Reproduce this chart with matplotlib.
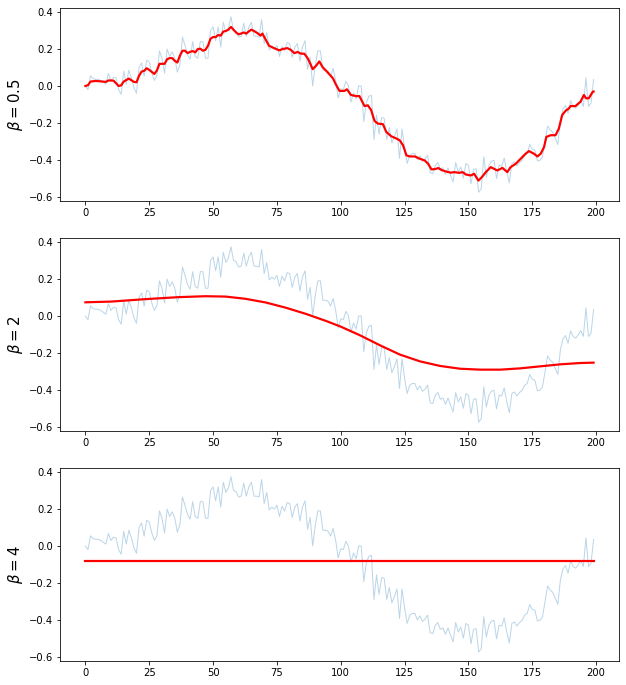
import matplotlib
matplotlib.use("Agg")
import matplotlib.pyplot as plt
import numpy as np

noisy = [
    0.0, -0.02, 0.055, 0.04, 0.036, 0.036, 0.03, 0.02, 0.01, 0.067,
    0.03, 0.047, 0.044, -0.02, -0.045, 0.08, 0.01, 0.085, 0.044, -0.01,
    -0.04, 0.1, 0.125, 0.053, 0.14, 0.13, 0.07, 0.03, 0.056, 0.19,
    0.15, 0.07, 0.2, 0.16, 0.185, 0.15, 0.075, 0.115, 0.265, 0.22,
    0.17, 0.145, 0.24, 0.16, 0.15, 0.24, 0.24, 0.15, 0.15, 0.3,
    0.32, 0.245, 0.32, 0.21, 0.345, 0.29, 0.315, 0.375, 0.3, 0.295,
    0.265, 0.27, 0.34, 0.27, 0.32, 0.345, 0.27, 0.27, 0.265, 0.36,
    0.23, 0.29, 0.195, 0.21, 0.2, 0.22, 0.16, 0.215, 0.19, 0.235,
    0.23, 0.155, 0.21, 0.23, 0.135, 0.21, 0.245, 0.09, 0.155, 0.0,
    0.11, 0.19, 0.19, 0.085, 0.085, 0.08, 0.053, 0.095, 0.03, -0.065,
    -0.015, -0.02, 0.025, 0.0, -0.087, -0.038, -0.07, 0.0, 0.0, -0.193,
    -0.093, -0.056, -0.051, -0.29, -0.157, -0.262, -0.171, -0.175, -0.29, -0.226,
    -0.308, -0.275, -0.233, -0.393, -0.233, -0.339, -0.42, -0.375, -0.366, -0.366,
    -0.40, -0.379, -0.408, -0.397, -0.375, -0.47, -0.475, -0.43, -0.415, -0.452,
    -0.444, -0.479, -0.444, -0.485, -0.52, -0.415, -0.466, -0.439, -0.5, -0.42,
    -0.43, -0.53, -0.452, -0.448, -0.576, -0.557, -0.384, -0.494, -0.43, -0.408,
    -0.403, -0.503, -0.43, -0.434, -0.39, -0.466, -0.525, -0.42, -0.412, -0.434,
    -0.415, -0.403, -0.375, -0.366, -0.317, -0.344, -0.348, -0.406, -0.403, -0.384,
    -0.302, -0.217, -0.239, -0.251, -0.284, -0.317, -0.184, -0.124, -0.106, -0.148,
    -0.08, -0.111, -0.12, -0.102, -0.08, -0.111, 0.044, -0.111, -0.093, 0.035,
]

# Smoothed curve, beta = 0.5
s05_x = [0, 1, 2, 4, 6, 8, 9, 11, 13, 14, 15, 17, 19, 20, 21, 22, 23, 24, 25, 26,
         27, 28, 29, 30, 31, 32, 33, 34, 35, 36, 37, 38, 39, 40, 41, 42, 43, 44, 45, 46,
         47, 48, 49, 50, 51, 52, 53, 54, 55, 56, 57, 58, 59, 60, 61, 62, 63, 64, 65, 66,
         67.3, 68.6, 69.3, 70.6, 71.9, 73.9, 75.9, 77.2, 79.1, 80.4, 81.8, 83.1, 84.4, 85.7,
         87, 88.1, 89, 90.3, 91.6, 92.9, 94.9, 96.9, 98.2, 99.5, 101.4, 102.4, 104, 106,
         107.3, 109.3, 110.6, 111.9, 113.2, 114.5, 116.5, 117.8, 119.8, 121.8, 123.1, 124.4,
         125.7, 127, 129, 131, 132.9, 134.2, 135.5, 136.8, 138.2, 139.5, 141.3, 143.1,
         144.4, 146.4, 147.7, 149, 150.9, 152.2, 153.9, 155.2, 156.8, 158.7, 160, 161.3,
         163.3, 165.2, 166.5, 168.5, 170.4, 172.4, 173.7, 175.6, 177, 178.3, 179.6, 180.5,
         182.2, 184.1, 185.4, 186.7, 188, 189.3, 190, 191.9, 193.9, 195.2, 196.1, 197.1,
         198.7, 199]
s05_y = [0.0, 0.004, 0.024, 0.027, 0.025, 0.022, 0.03, 0.029, 0.0, 0.003, 0.024, 0.04,
         0.022, 0.02, 0.055, 0.078, 0.082, 0.096, 0.087, 0.076, 0.065, 0.084, 0.12, 0.12,
         0.12, 0.145, 0.151, 0.151, 0.136, 0.127, 0.164, 0.191, 0.191, 0.178, 0.185, 0.189,
         0.182, 0.2, 0.202, 0.191, 0.196, 0.218, 0.256, 0.265, 0.265, 0.276, 0.273, 0.295,
         0.298, 0.305, 0.32, 0.305, 0.29, 0.28, 0.284, 0.29, 0.284, 0.296, 0.305, 0.298,
         0.287, 0.273, 0.284, 0.251, 0.218, 0.205, 0.193, 0.2, 0.205, 0.196, 0.178, 0.184,
         0.175, 0.175, 0.151, 0.12, 0.091, 0.109, 0.133, 0.102, 0.073, 0.042, 0.005, -0.027,
         -0.027, -0.018, -0.049, -0.055, -0.055, -0.109, -0.105, -0.131, -0.189, -0.204,
         -0.207, -0.249, -0.273, -0.285, -0.295, -0.322, -0.376, -0.382, -0.382, -0.395,
         -0.404, -0.422, -0.452, -0.451, -0.445, -0.456, -0.464, -0.47, -0.467, -0.471,
         -0.467, -0.48, -0.485, -0.476, -0.513, -0.495, -0.467, -0.44, -0.449, -0.458,
         -0.444, -0.467, -0.44, -0.422, -0.395, -0.367, -0.353, -0.367, -0.382, -0.367,
         -0.331, -0.276, -0.267, -0.267, -0.231, -0.158, -0.135, -0.122, -0.109, -0.109,
         -0.085, -0.049, -0.067, -0.067, -0.031, -0.03]

# Smoothed curve, beta = 2
s2_x = [0, 10.2, 23.4, 36.5, 47, 54.9, 62.7, 70.6, 78.4, 86.4, 94.2, 100, 107.4,
        115.2, 123.1, 131, 138.9, 146.7, 154.6, 162.5, 170.3, 178.2, 186.1, 193.9, 199]
s2_y = [0.074, 0.078, 0.091, 0.102, 0.107, 0.105, 0.093, 0.073, 0.045, 0.011, -0.027,
        -0.058, -0.104, -0.158, -0.209, -0.246, -0.271, -0.286, -0.291, -0.291, -0.284,
        -0.273, -0.262, -0.255, -0.253]

# Smoothed curve, beta = 4
s4_x = [0, 199]
s4_y = [-0.084, -0.084]

labels = [r"$\beta = 0.5$", r"$\beta = 2$", r"$\beta = 4$"]
smooth = [(s05_x, s05_y), (s2_x, s2_y), (s4_x, s4_y)]

DPI = 72
fig = plt.figure(figsize=(626 / DPI, 685 / DPI), dpi=DPI)
left, width, height = 60 / 626, 559 / 626, 193 / 685
bottoms = [1 - 201 / 685, 1 - 431 / 685, 1 - 661 / 685]
t = np.arange(len(noisy))
for b, lab, (sx, sy) in zip(bottoms, labels, smooth):
    ax = fig.add_axes([left, b, width, height])
    ax.plot(t, noisy, color="C0", alpha=0.3, lw=1)
    ax.plot(sx, sy, color="red", lw=2.2)
    ax.set_ylabel(lab, fontsize=15)
    ax.set_yticks([0.4, 0.2, 0.0, -0.2, -0.4, -0.6])
    ax.set_xticks([0, 25, 50, 75, 100, 125, 150, 175, 200])
    ax.tick_params(labelsize=10)

fig.savefig("out.png", dpi=DPI)
